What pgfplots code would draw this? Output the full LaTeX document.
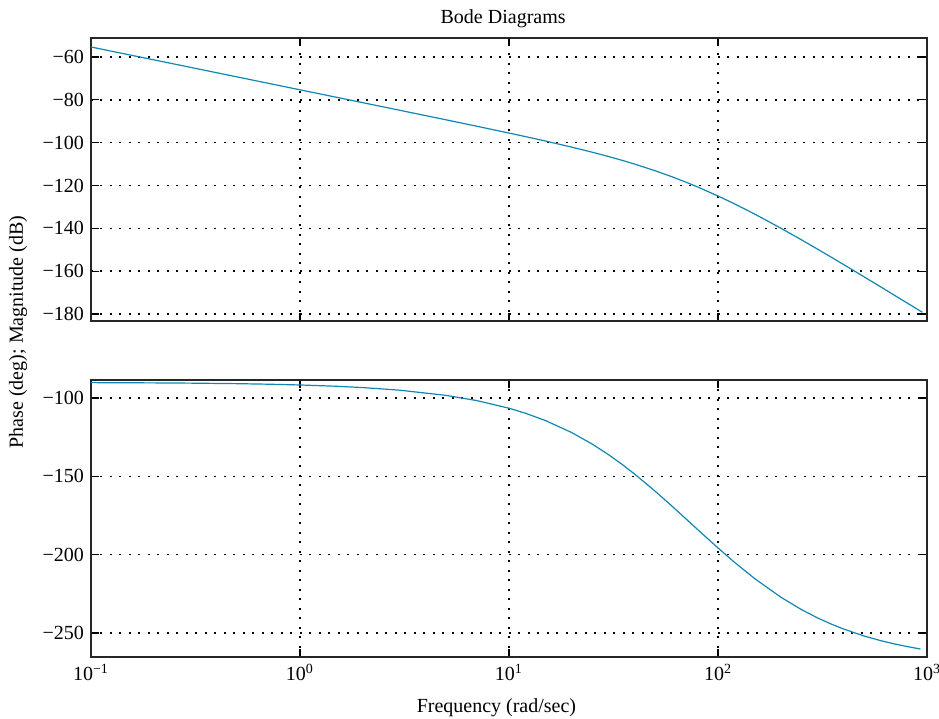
\documentclass[border=0pt]{standalone}
\usepackage{fontspec}
\setmainfont{Liberation Serif}
\usepackage{pgfplots}
\pgfplotsset{compat=1.18}
\definecolor{bodeblue}{RGB}{15,135,178}
\pgfplotsset{
  bodeaxis/.style={
    scale only axis,
    width=418pt,
    xmin=0.1, xmax=1000,
    xtick={0.1,1,10,100,1000},
    xminorticks=false,
    yminorticks=false,
    tick align=inside,
    major tick length=4pt,
    tick style={black, line width=0.6pt},
    axis line style={black!85, line width=0.8pt},
    grid=major,
    major grid style={black, line width=0.65pt, dash pattern=on 1pt off 3.75pt},
    ticklabel style={font=\fontsize{10}{12}\selectfont},
    label style={font=\fontsize{10}{12}\selectfont},
    clip mode=individual,
  }
}
\begin{document}
\begin{tikzpicture}
\path[use as bounding box] (-45.5pt,19pt) rectangle (424pt,-340.5pt);
\begin{semilogxaxis}[bodeaxis,
  at={(0pt,0pt)}, anchor=north west,
  height=141.5pt,
  ymin=-183.3, ymax=-51.1,
  ytick={-180,-160,-140,-120,-100,-80,-60},
  yticklabels={−180,−160,−140,−120,−100,−80,−60},
  xticklabels={},
  title={Bode Diagrams},
  title style={at={(axis description cs:0.493,1)}, anchor=base, yshift=1.3pt, font=\fontsize{10}{12}\selectfont},
]
\addplot[bodeblue, line width=0.6pt] coordinates {
(0.1,-55.29) (0.2,-61.31) (0.3,-64.83) (0.5,-69.27) (0.7,-72.19) (1,-75.30)
(1.5,-78.82) (2,-81.32) (3,-84.85) (5,-89.32) (7,-92.29) (10,-95.50)
(12,-97.16) (15,-99.26) (20,-102.10) (25,-104.44) (30,-106.48) (35,-108.32)
(40,-110.02) (50,-113.10) (60,-115.86) (70,-118.38) (80,-120.71)
(100,-124.90) (120,-128.57) (150,-133.37) (200,-139.96) (250,-145.30)
(300,-149.77) (350,-153.62) (400,-156.99) (500,-162.67) (600,-167.34)
(700,-171.32) (800,-174.76) (950,-179.22)
};
\node[rotate=90, font=\fontsize{10}{12}\selectfont] at (axis description cs:-0.0873,-0.039) {Phase (deg); Magnitude (dB)};
\end{semilogxaxis}
\begin{semilogxaxis}[bodeaxis,
  at={(0pt,-171pt)}, anchor=north west,
  height=138.5pt,
  ymin=-265.3, ymax=-88.5,
  ytick={-250,-200,-150,-100},
  yticklabels={−250,−200,−150,−100},
  xticklabels={10\textsuperscript{−1},10\textsuperscript{0},10\textsuperscript{1},10\textsuperscript{2},10\textsuperscript{3}},
  xlabel={Frequency (rad/sec)},
  xlabel style={at={(axis description cs:0.485,0)}, anchor=base, yshift=-27.5pt},
]
\addplot[bodeblue, line width=0.6pt] coordinates {
(0.1,-90.17) (0.2,-90.34) (0.3,-90.50) (0.5,-90.83) (0.7,-91.17) (1,-91.67)
(1.5,-92.50) (2,-93.33) (3,-95.00) (5,-98.31) (7,-101.61) (10,-106.50)
(12,-109.73) (15,-114.47) (20,-122.10) (25,-129.38) (30,-136.22) (35,-142.64)
(40,-148.64) (50,-159.44) (60,-168.80) (70,-176.93) (80,-184.02)
(100,-195.70) (120,-204.87) (150,-215.32) (200,-227.15) (250,-234.94)
(300,-240.40) (350,-244.42) (400,-247.49) (500,-251.89) (600,-254.85)
(700,-256.98) (800,-258.59) (930,-260.20)
};
\end{semilogxaxis}
\end{tikzpicture}
\end{document}
